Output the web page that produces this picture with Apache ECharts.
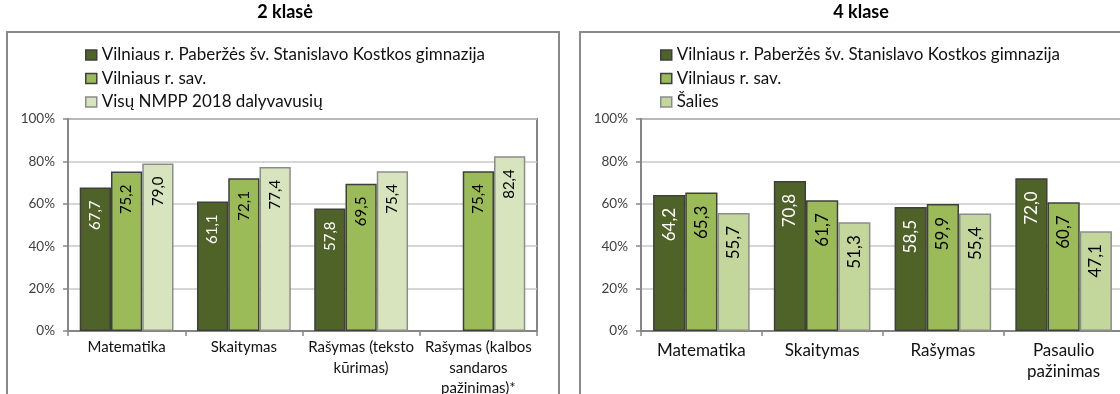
<!DOCTYPE html>
<html>
<head>
<meta charset="utf-8">
<script src="https://cdn.jsdelivr.net/npm/echarts@6/dist/echarts.min.js"></script>
<style>
  html, body { margin: 0; padding: 0; background: #ffffff; }
  #chart { width: 1120px; height: 394px; }
</style>
</head>
<body>
<div id="chart"></div>
<script>
// Results by subject, percent
const SCHOOL = 'Vilniaus r. Paberžės šv. Stanislavo Kostkos gimnazija';
const DISTRICT = 'Vilniaus r. sav.';
const ALL_NMPP = 'Visų NMPP 2018 dalyvavusių';
const COUNTRY = 'Šalies';

// 2nd grade
const categories2 = ['Matematika', 'Skaitymas', 'Rašymas (teksto\nkūrimas)', 'Rašymas (kalbos\nsandaros\npažinimas)*'];
const school2 = [67.7, 61.1, 57.8, null];
const district2 = [75.2, 72.1, 69.5, 75.4];
const allNmpp2 = [79.0, 77.4, 75.4, 82.4];

// 4th grade
const categories4 = ['Matematika', 'Skaitymas', 'Rašymas', 'Pasaulio\npažinimas'];
const school4 = [64.2, 70.8, 58.5, 72.0];
const district4 = [65.3, 61.7, 59.9, 60.7];
const country4 = [55.7, 51.3, 55.4, 47.1];

// Percent axis
const yMin = 0, yMax = 100, yStep = 20;

const FONT = 'Lato';
const DARK = '#4f6228', MID = '#9bbb59', LIGHT2 = '#d7e4bd', LIGHT4 = '#c3d69b';
const EDGE_DARK = '#3f3f3f', EDGE_LIGHT = '#8c8c8c';
const AXIS = '#868686', GRID = '#c8c8c8';

const fmt = p => p.value == null ? '' : p.value.toFixed(1).replace('.', ',');

function barSeries(name, data, idx, fill, edge, labelColor, labelSize) {
  return {
    type: 'bar', name, data,
    xAxisIndex: idx, yAxisIndex: idx,
    barCategoryGap: '20%', barGap: '0%',
    itemStyle: { color: fill, borderColor: edge, borderWidth: 1.5 },
    label: {
      show: true, position: 'insideTop', rotate: 90,
      align: 'right', verticalAlign: 'middle', distance: 13,
      formatter: fmt, color: labelColor,
      fontFamily: FONT, fontSize: labelSize
    },
    emphasis: { disabled: true },
    silent: true
  };
}

function xAxis(idx, cats, size, margin, lh) {
  return {
    type: 'category', gridIndex: idx, data: cats,
    axisLine: { lineStyle: { color: AXIS, width: 2 } },
    axisTick: { show: true, length: 5, lineStyle: { color: AXIS, width: 1.5 } },
    axisLabel: { color: '#111', fontFamily: FONT, fontSize: size, lineHeight: lh, margin, interval: 0 }
  };
}

function yAxis(idx) {
  return {
    type: 'value', gridIndex: idx, min: yMin, max: yMax, interval: yStep,
    axisLine: { show: true, lineStyle: { color: AXIS, width: 2 } },
    axisTick: { show: true, length: 5, lineStyle: { color: AXIS, width: 1.5 } },
    axisLabel: { formatter: '{value}%', color: '#404040', fontFamily: FONT, fontSize: 13.5, margin: 13 },
    splitLine: { lineStyle: { color: GRID, width: 1.5 } }
  };
}

function legend(left, names, lightFill) {
  return {
    orient: 'vertical', left, top: 46, padding: 0,
    itemWidth: 11, itemHeight: 10, itemGap: 5.5,
    icon: 'rect',
    selectedMode: false,
    textStyle: { fontFamily: FONT, fontSize: 17, lineHeight: 18, color: '#111' },
    data: [
      { name: names[0], itemStyle: { color: DARK, borderColor: EDGE_DARK, borderWidth: 1.5 } },
      { name: names[1], itemStyle: { color: MID, borderColor: EDGE_DARK, borderWidth: 1.5 } },
      { name: names[2], itemStyle: { color: lightFill, borderColor: EDGE_LIGHT, borderWidth: 1.5 } }
    ]
  };
}

const chart = echarts.init(document.getElementById('chart'), null, { renderer: 'canvas' });

chart.setOption({
  animation: false,
  backgroundColor: '#ffffff',
  title: [
    { text: '2 klasė', left: 285, top: 3, padding: 0, textAlign: 'center',
      textStyle: { fontFamily: FONT, fontSize: 18, fontWeight: 'bold', color: '#000' } },
    { text: '4 klase', left: 861, top: 3, padding: 0, textAlign: 'center',
      textStyle: { fontFamily: FONT, fontSize: 18, fontWeight: 'bold', color: '#000' } }
  ],
  graphic: [
    { type: 'rect', silent: true, z: -1, shape: { x: 7, y: 32, width: 552, height: 420 },
      style: { fill: 'none', stroke: '#8a8a8a', lineWidth: 2 } },
    { type: 'rect', silent: true, z: -1, shape: { x: 580, y: 32, width: 600, height: 420 },
      style: { fill: 'none', stroke: '#8a8a8a', lineWidth: 2 } }
  ],
  legend: [
    legend(85, [SCHOOL, DISTRICT, ALL_NMPP], LIGHT2),
    legend(660, [SCHOOL, DISTRICT, COUNTRY], LIGHT4)
  ],
  grid: [
    { left: 68, top: 119, width: 469, height: 212, outerBoundsMode: 'none', containLabel: false,
      show: true, borderColor: AXIS, borderWidth: 2, backgroundColor: 'transparent' },
    { left: 641, top: 119, width: 483, height: 212, outerBoundsMode: 'none', containLabel: false,
      show: true, borderColor: AXIS, borderWidth: 2, backgroundColor: 'transparent' }
  ],
  xAxis: [
    xAxis(0, categories2, 15, 6, 20.5),
    xAxis(1, categories4, 17, 9, 21)
  ],
  yAxis: [yAxis(0), yAxis(1)],
  series: [
    barSeries(SCHOOL, school2, 0, DARK, EDGE_DARK, '#ffffff', 15),
    barSeries(DISTRICT, district2, 0, MID, EDGE_DARK, '#000000', 15),
    barSeries(ALL_NMPP, allNmpp2, 0, LIGHT2, EDGE_LIGHT, '#000000', 15),
    barSeries(SCHOOL, school4, 1, DARK, EDGE_DARK, '#ffffff', 17),
    barSeries(DISTRICT, district4, 1, MID, EDGE_DARK, '#000000', 17),
    barSeries(COUNTRY, country4, 1, LIGHT4, EDGE_LIGHT, '#000000', 17)
  ]
});
</script>
</body>
</html>
